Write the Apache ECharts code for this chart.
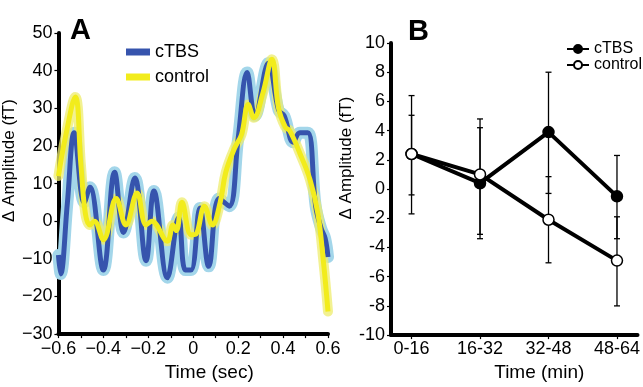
<!DOCTYPE html>
<html>
<head>
<meta charset="utf-8">
<script src="https://cdn.jsdelivr.net/npm/echarts@6/dist/echarts.min.js"></script>
<style>
  html, body { margin: 0; background: #fff; }
  #chart { width: 643px; height: 387px; }
</style>
</head>
<body>
<div id="chart"></div>
<script>
// ── Panel A: evoked amplitude traces, [time (sec), amplitude (fT)] ──
const ctbsTrace = [
  [-0.600, -9], [-0.590, -14], [-0.560, 5], [-0.530, 23.5], [-0.485, 5], [-0.460, 9],
  [-0.400, -13], [-0.350, 13], [-0.310, -3], [-0.260, 11.5], [-0.210, -10.5], [-0.175, 8],
  [-0.115, -15], [-0.065, 1], [-0.035, -13], [-0.010, -13], [0.030, 3.5], [0.069, -12],
  [0.115, 6], [0.160, 4], [0.200, 22], [0.240, 39.5], [0.275, 28], [0.335, 42],
  [0.380, 29.5], [0.405, 28], [0.445, 21], [0.475, 23.5], [0.510, 23.5], [0.545, 4],
  [0.570, -2], [0.587, -4.5], [0.600, -9.5]
]
const controlTrace = [
  [-0.600, 12], [-0.570, 22], [-0.525, 33], [-0.500, 15], [-0.480, 2], [-0.460, -1],
  [-0.440, 0], [-0.400, -4.9], [-0.343, 6], [-0.300, -1], [-0.250, 7.5], [-0.210, -1],
  [-0.185, 0], [-0.115, -5.3], [-0.090, -1], [-0.075, -2.5], [-0.050, 5], [-0.010, -3.6],
  [0.010, -3.5], [0.050, 4], [0.085, -1], [0.120, 5], [0.145, 13], [0.185, 19.5],
  [0.215, 23], [0.245, 31], [0.270, 27.5], [0.310, 34], [0.350, 43], [0.380, 30],
  [0.410, 25], [0.430, 24], [0.475, 18], [0.520, 11], [0.555, 2], [0.580, -11], [0.600, -24]
]

// ── Panel B: mean change per session with error bars ──
const sessions    = ['0-16', '16-32', '32-48', '48-64']
const ctbsMean    = [2.4, 0.4, 3.9, -0.5]
const ctbsLow     = [-1.7, -3.4, -0.3, -3.4]
const ctbsHigh    = [6.4, 4.2, 8.0, 2.3]
const controlMean = [2.4, 1.0, -2.1, -4.9]
const controlLow  = [-0.4, -3.1, -5.05, -8.0]
const controlHigh = [5.05, 4.8, 0.85, -1.9]

const FONT = "'Liberation Sans', Arial, sans-serif"
const BLUE = '#3654ad'
const BLUE_BAND = '#a3d6ea'
const YELLOW = '#f2ec1c'
const YELLOW_BAND = 'rgba(238, 236, 110, 0.75)'

const minus = (s) => String(s).replace('-', '\u2212')

function errorBars(name, low, high) {
  return {
    name, type: 'custom', xAxisIndex: 1, yAxisIndex: 1, z: 1,
    data: low.map((lo, i) => [i, lo, high[i]]),
    encode: { x: 0, y: [1, 2] },
    renderItem: (params, api) => {
      const top = api.coord([api.value(0), api.value(2)])
      const bot = api.coord([api.value(0), api.value(1)])
      const w = 3
      const st = { stroke: '#000', lineWidth: 1.3 }
      return {
        type: 'group',
        children: [
          { type: 'line', shape: { x1: top[0], y1: top[1], x2: bot[0], y2: bot[1] }, style: st },
          { type: 'line', shape: { x1: top[0] - w, y1: top[1], x2: top[0] + w, y2: top[1] }, style: st },
          { type: 'line', shape: { x1: bot[0] - w, y1: bot[1], x2: bot[0] + w, y2: bot[1] }, style: st },
        ],
      }
    },
  }
}

const axisLine = { onZero: false, lineStyle: { color: '#000', width: 4 } }
const axisTick = { length: 4, lineStyle: { color: '#000', width: 1.2 } }
const label = { fontFamily: FONT, fontSize: 18, color: '#000' }

const chart = echarts.init(document.getElementById('chart'), null, { renderer: 'canvas' })
chart.setOption({
  animation: false,
  backgroundColor: '#fff',
  title: [
    { text: 'A', left: 65, top: 11, textStyle: { fontFamily: FONT, fontSize: 29, fontWeight: 'bold', color: '#000' } },
    { text: 'B', left: 403, top: 12, textStyle: { fontFamily: FONT, fontSize: 29, fontWeight: 'bold', color: '#000' } },
  ],
  legend: [
    {
      left: 121, top: 38, orient: 'vertical', itemGap: 7, itemWidth: 24, itemHeight: 7,
      textStyle: { fontFamily: FONT, fontSize: 18, color: '#000' },
      data: [
        { name: 'cTBS', icon: 'rect', itemStyle: { color: BLUE, borderWidth: 0 } },
        { name: 'control', icon: 'rect', itemStyle: { color: YELLOW, borderWidth: 0 } },
      ],
      selectedMode: false,
    },
    {
      left: 561, top: 36, orient: 'vertical', itemGap: 0, itemWidth: 22, itemHeight: 10,
      textStyle: { fontFamily: FONT, fontSize: 16, color: '#000', lineHeight: 16 },
      data: ['cTBS', 'control'],
      selectedMode: false,
    },
  ],
  grid: [
    { left: 57, top: 33, width: 271, height: 313 },
    { left: 391, top: 43, width: 249, height: 303 },
  ],
  xAxis: [
    {
      type: 'value', gridIndex: 0, min: -0.6, max: 0.6, interval: 0.2,
      axisLine, axisTick, minorTick: { show: true, splitNumber: 2, length: 4, lineStyle: { color: '#000', width: 1.2 } },
      splitLine: { show: false },
      axisLabel: { ...label, margin: 6, formatter: (v) => minus(+v.toFixed(1)) },
      name: 'Time (sec)', nameLocation: 'middle', nameGap: 15,
      nameTextStyle: { fontFamily: FONT, fontSize: 19, color: '#000', padding: [0, 0, 0, 32] },
    },
    {
      type: 'value', gridIndex: 1, min: -0.3, max: 3.3,
      axisLine, axisTick: { ...axisTick, customValues: [0, 1, 2, 3] },
      splitLine: { show: false },
      axisLabel: { ...label, margin: 5, customValues: [0, 1, 2, 3], formatter: (v) => sessions[Math.round(v)] },
      name: 'Time (min)', nameLocation: 'middle', nameGap: 21,
      nameTextStyle: { fontFamily: FONT, fontSize: 19, color: '#000', padding: [0, 0, 0, 50] },
    },
  ],
  yAxis: [
    {
      type: 'value', gridIndex: 0, min: -30, max: 50, interval: 10,
      axisLine, axisTick, splitLine: { show: false },
      axisLabel: { ...label, margin: 6, formatter: (v) => minus(v) },
      name: '\u0394 Amplitude (fT)', nameLocation: 'middle', nameGap: 27,
      nameTextStyle: { fontFamily: FONT, fontSize: 17, color: '#000', padding: [0, 0, 0, 46] },
    },
    {
      type: 'value', gridIndex: 1, min: -10, max: 10, interval: 2,
      axisLine, axisTick, splitLine: { show: false },
      axisLabel: { ...label, margin: 6 },
      name: '\u0394 Amplitude (fT)', nameLocation: 'middle', nameGap: 22,
      nameTextStyle: { fontFamily: FONT, fontSize: 17, color: '#000', padding: [0, 0, 0, 62] },
    },
  ],
  series: [
    // panel B first so its legend picks up the marker icons
    errorBars('cTBS err', ctbsLow, ctbsHigh),
    errorBars('control err', controlLow, controlHigh),
    {
      name: 'cTBS', type: 'line', xAxisIndex: 1, yAxisIndex: 1, z: 3,
      data: ctbsMean.map((v, i) => [i, v]),
      symbol: 'circle', symbolSize: 11,
      itemStyle: { color: '#000', borderColor: '#000', borderWidth: 1.5 },
      lineStyle: { color: '#000', width: 4 },
    },
    {
      name: 'control', type: 'line', xAxisIndex: 1, yAxisIndex: 1, z: 4,
      data: controlMean.map((v, i) => [i, v]),
      symbol: 'circle', symbolSize: 11,
      itemStyle: { color: '#fff', borderColor: '#000', borderWidth: 1.5 },
      lineStyle: { color: '#000', width: 4 },
    },
    // panel A
    {
      name: 'cTBS band', type: 'line', xAxisIndex: 0, yAxisIndex: 0, z: 1,
      data: ctbsTrace, smooth: 0.4, symbol: 'none',
      lineStyle: { color: BLUE_BAND, width: 12, cap: 'round', join: 'round' },
    },
    {
      name: 'control band', type: 'line', xAxisIndex: 0, yAxisIndex: 0, z: 2,
      data: controlTrace, smooth: 0.4, symbol: 'none',
      lineStyle: { color: YELLOW_BAND, width: 10, cap: 'round', join: 'round' },
    },
    {
      name: 'cTBS', type: 'line', xAxisIndex: 0, yAxisIndex: 0, z: 3,
      data: ctbsTrace, smooth: 0.4, symbol: 'none',
      lineStyle: { color: BLUE, width: 5, join: 'round' },
    },
    {
      name: 'control', type: 'line', xAxisIndex: 0, yAxisIndex: 0, z: 4,
      data: controlTrace, smooth: 0.4, symbol: 'none',
      lineStyle: { color: YELLOW, width: 5, join: 'round' },
    },
  ],
})
</script>
</body>
</html>
